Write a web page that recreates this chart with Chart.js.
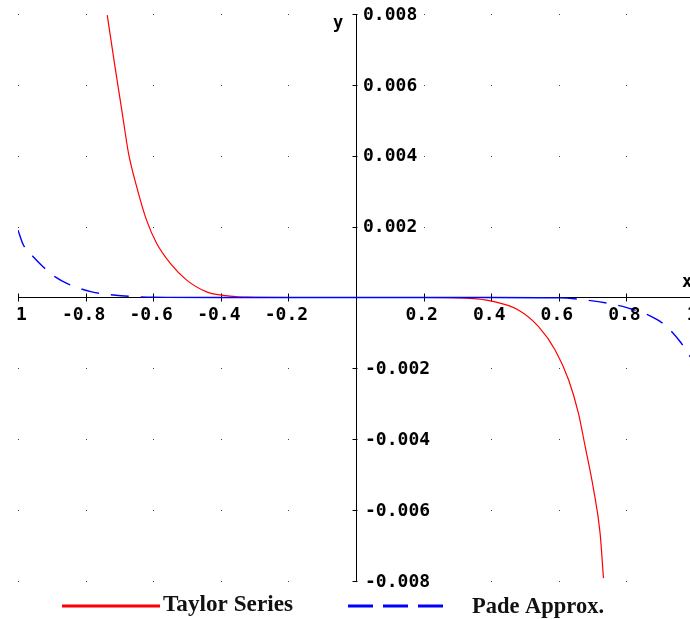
<!DOCTYPE html>
<html>
<head>
<meta charset="utf-8">
<script src="https://cdn.jsdelivr.net/npm/chart.js@4"></script>
<style>
body { margin: 0; background: #fff; overflow: hidden; }
</style>
</head>
<body>
<canvas id="c" width="690" height="619"></canvas>
<script>
// values
let taylorX = [-0.736, -0.713, -0.693, -0.673, -0.649, -0.620, -0.590, -0.550, -0.501, -0.442, -0.373, -0.32, -0.2, 0, 0.2, 0.325, 0.401, 0.480, 0.540, 0.589, 0.629, 0.658, 0.678, 0.703, 0.722, 0.732];
let taylorY = [0.00797, 0.00651, 0.00529, 0.00407, 0.00313, 0.00219, 0.00153, 0.00097, 0.00049, 0.00016, 0.00004, 0.00001, 0, 0, 0, -0.00002, -0.0001, -0.00035, -0.00082, -0.00148, -0.00233, -0.00327, -0.00421, -0.00543, -0.00665, -0.00792];

let padeX = [-1.0, -0.984, -0.955, -0.926, -0.891, -0.851, -0.782, -0.718, -0.6, -0.4, 0, 0.4, 0.6, 0.678, 0.75, 0.806, 0.870, 0.914, 0.959, 0.988];
let padeY = [0.0019, 0.00148, 0.00115, 0.00087, 0.00059, 0.00038, 0.00016, 0.00007, 0.00001, 0, 0, 0, -0.00001, -0.00007, -0.00017, -0.0003, -0.00052, -0.00078, -0.00125, -0.00167];

let xTicks = [-1, -0.8, -0.6, -0.4, -0.2, 0.2, 0.4, 0.6, 0.8, 1];
let xTickLabels = ["-1", "-0.8", "-0.6", "-0.4", "-0.2", "0.2", "0.4", "0.6", "0.8", "1"];
let yTicks = [0.008, 0.006, 0.004, 0.002, -0.002, -0.004, -0.006, -0.008];
let yTickLabels = ["0.008", "0.006", "0.004", "0.002", "-0.002", "-0.004", "-0.006", "-0.008"];

let seriesNames = ["Taylor Series", "Pade Approx."];

function toPoints(xs, ys){
    return xs.map((x, i) => ({x: x, y: ys[i]}));
}

// axes through the origin, ticks, dots and labels
let axesPlugin = {
    id: "axes",
    beforeDatasetsDraw(chart){
        let ctx = chart.ctx;
        let xs = chart.scales.x, ys = chart.scales.y;
        let x0 = Math.floor(xs.getPixelForValue(0)) + 0.5;
        let y0 = Math.floor(ys.getPixelForValue(0)) + 0.5;

        ctx.save();
        // grid dots
        ctx.fillStyle = "#444";
        xTicks.forEach(tx => {
            yTicks.forEach(ty => {
                let px = Math.round(xs.getPixelForValue(tx));
                let py = Math.round(ys.getPixelForValue(ty));
                ctx.fillRect(px, py, 1, 1);
            });
        });

        ctx.strokeStyle = "#000";
        ctx.lineWidth = 1;
        ctx.beginPath();
        ctx.moveTo(xs.getPixelForValue(-1), y0);
        ctx.lineTo(chart.width, y0);
        ctx.moveTo(x0, ys.getPixelForValue(0.008));
        ctx.lineTo(x0, ys.getPixelForValue(-0.008));
        xTicks.forEach(tx => {
            let px = Math.round(xs.getPixelForValue(tx)) + 0.5;
            ctx.moveTo(px, y0 - 4);
            ctx.lineTo(px, y0 + 4);
        });
        yTicks.forEach(ty => {
            let py = Math.round(ys.getPixelForValue(ty)) + 0.5;
            ctx.moveTo(x0 - 4, py);
            ctx.lineTo(x0 + 1, py);
        });
        ctx.stroke();
        ctx.restore();
    },
    afterDatasetsDraw(chart){
        let ctx = chart.ctx;
        let xs = chart.scales.x, ys = chart.scales.y;
        let x0 = xs.getPixelForValue(0);
        let y0 = ys.getPixelForValue(0);

        ctx.save();
        ctx.fillStyle = "#000";
        ctx.font = "bold 18px 'DejaVu Sans Mono'";
        ctx.textBaseline = "middle";

        // x tick labels
        ctx.save();
        ctx.beginPath();
        ctx.rect(15, 0, chart.width, chart.height);
        ctx.clip();
        ctx.textAlign = "center";
        xTicks.forEach((tx, i) => {
            ctx.fillText(xTickLabels[i], xs.getPixelForValue(tx) - 2, y0 + 18);
        });
        ctx.restore();

        // y tick labels
        ctx.textAlign = "left";
        yTicks.forEach((ty, i) => {
            let off = ty < 0 ? 9 : 7;
            ctx.fillText(yTickLabels[i], x0 + off, ys.getPixelForValue(ty) + 1);
        });

        // axis names
        ctx.font = "bold 17px 'DejaVu Sans Mono'";
        ctx.textAlign = "center";
        ctx.fillText("y", x0 - 18, 24);
        ctx.fillText("x", 687, y0 - 15);

        // legend
        let ly = 606;
        let ds = chart.data.datasets;
        ctx.lineWidth = 3;
        ctx.strokeStyle = ds[0].borderColor;
        ctx.beginPath();
        ctx.moveTo(62, ly);
        ctx.lineTo(160, ly);
        ctx.stroke();

        ctx.strokeStyle = ds[1].borderColor;
        ctx.setLineDash([25, 10]);
        ctx.beginPath();
        ctx.moveTo(348, ly);
        ctx.lineTo(453, ly);
        ctx.stroke();
        ctx.setLineDash([]);

        ctx.fillStyle = "#111";
        ctx.font = "bold 23px 'Liberation Serif'";
        ctx.textAlign = "left";
        ctx.textBaseline = "alphabetic";
        drawSquashed(ctx, ds[0].label, 163, 611, 130);
        drawSquashed(ctx, ds[1].label, 472, 613, 132);
        ctx.restore();
    }
};

function drawSquashed(ctx, text, x, y, w){
    let m = ctx.measureText(text).width;
    ctx.save();
    ctx.translate(x, y);
    ctx.scale(w / m, 1);
    ctx.fillText(text, 0, 0);
    ctx.restore();
}

new Chart(document.getElementById("c"), {
    type: "scatter",
    data: {
        datasets: [
            {
                label: seriesNames[0],
                data: toPoints(taylorX, taylorY),
                showLine: true,
                borderColor: "#ff0000",
                borderWidth: 1.2,
                pointRadius: 0,
                cubicInterpolationMode: "monotone",
                order: 2
            },
            {
                label: seriesNames[1],
                data: toPoints(padeX, padeY),
                showLine: true,
                borderColor: "#0000ff",
                borderWidth: 1.4,
                pointRadius: 0,
                cubicInterpolationMode: "monotone",
                order: 1,
                segment: {
                    borderDash: c => (c.p1.parsed.x <= -0.6 || c.p0.parsed.x >= 0.6) ? [18, 12] : undefined
                }
            }
        ]
    },
    options: {
        responsive: false,
        animation: false,
        layout: { padding: { left: 18, right: 0, top: 14, bottom: 38 } },
        scales: {
            x: { type: "linear", min: -1, max: 0.988, display: false },
            y: { type: "linear", min: -0.008, max: 0.008, display: false }
        },
        plugins: {
            legend: { display: false },
            tooltip: { enabled: false }
        }
    },
    plugins: [axesPlugin]
});
</script>
</body>
</html>
